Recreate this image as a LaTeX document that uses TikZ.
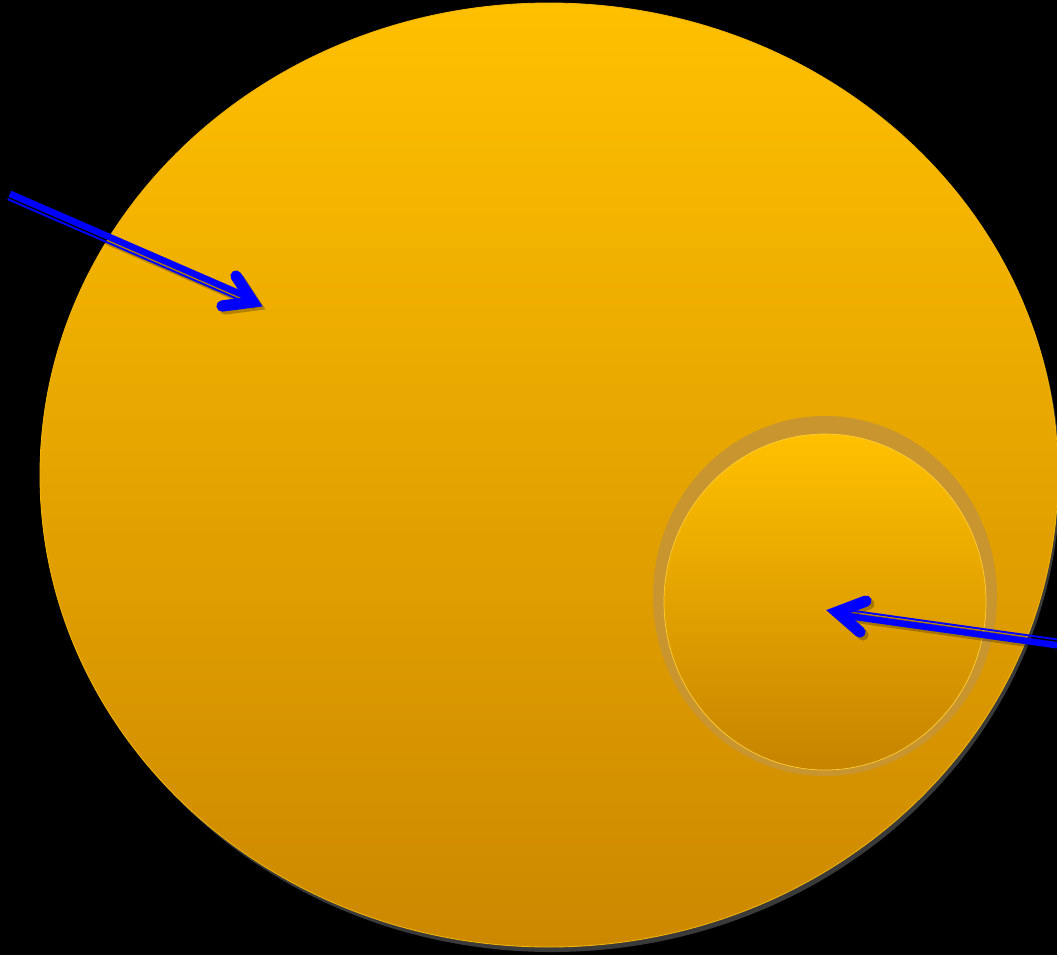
\documentclass[tikz,border=0pt]{standalone}
\usetikzlibrary{calc}
\definecolor{sunTop}{HTML}{FFC000}
\definecolor{sunBot}{HTML}{CC8800}
\definecolor{sunRing}{HTML}{C8952F}
\definecolor{sunEdge}{HTML}{F2B400}
\definecolor{arBlue}{HTML}{0000FF}
\definecolor{shGray}{HTML}{3A3A3A}

\begin{document}
\begin{tikzpicture}[
  x=0.025cm, y=-0.025cm,
  thickln/.style={line width=4.7pt},
  thinln/.style={line width=1.4pt},
  headln/.style={line width=8pt,line cap=round,line join=miter},
]
\fill[black] (0,0) rectangle (1057,955);
\useasboundingbox (0,0) rectangle (1057,955);
% big disc
\fill[shGray] (552,480) ellipse [x radius=508,y radius=472];
\shade[top color=sunTop,bottom color=sunBot,draw=sunEdge,line width=0.6pt]
  (549,475) ellipse [x radius=509,y radius=472];
% small disc with its ring
\fill[sunRing] (825,596) ellipse [x radius=172,y radius=180];
\shade[top color=sunTop,bottom color=sunBot!97!black,draw=sunTop!80,line width=0.5pt]
  (825,602) ellipse [x radius=161,y radius=168];

% arrow ends
\coordinate (s1) at (9,196);
\coordinate (v1) at (253,302);
\coordinate (a1) at (236,276);
\coordinate (b1) at (222,306);
\coordinate (s2) at (1062,643.5);
\coordinate (v2) at (837,612);
\coordinate (a2) at (866,601);
\coordinate (b2) at (860,632);

% shadow first, then the blue arrows
\foreach \sh/\op/\cl in {3/0.25/black,0/1/arBlue}{
  \begin{scope}[transform canvas={shift={(\sh,\sh)}},color=\cl,opacity=\op]
    \foreach \st/\vx/\ua/\ub in {s1/v1/a1/b1,s2/v2/a2/b2}{
      \draw[thickln] ($(\st)!1.7pt!90:(\vx)$) -- ($(\vx)!1.7pt!-90:(\st)$);
      \draw[thinln] ($(\st)!2.4pt!-90:(\vx)$) -- ($(\vx)!2.4pt!90:(\st)$);
      \draw[headln] (\ua) -- (\vx) -- (\ub);
    }
  \end{scope}
}
\end{tikzpicture}
\end{document}
